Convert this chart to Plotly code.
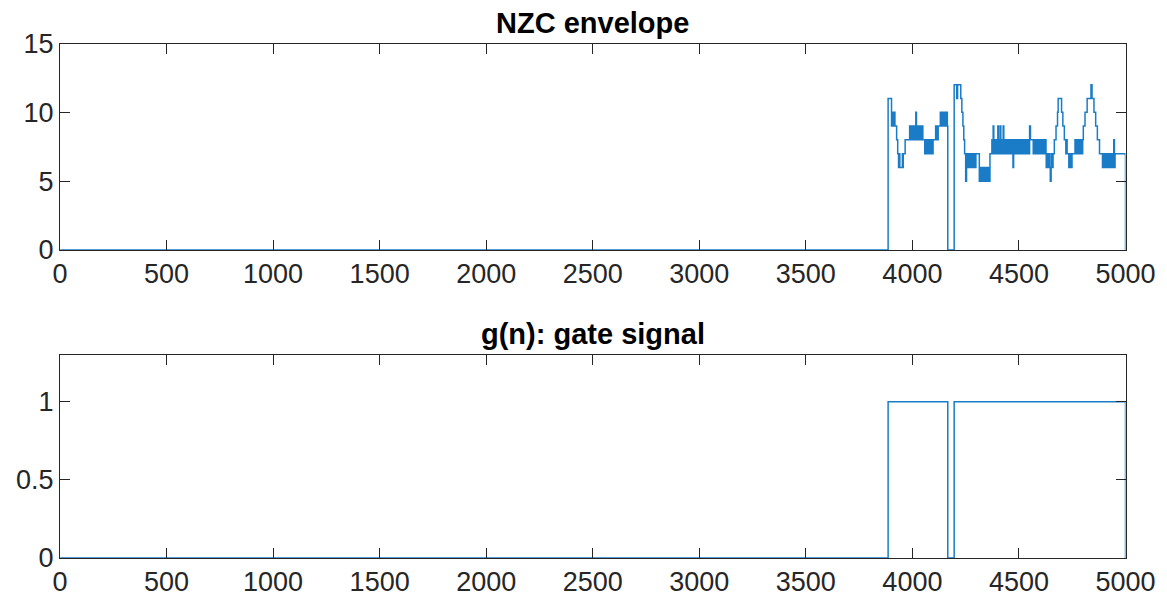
import plotly.graph_objects as go

# ---- NZC envelope: piecewise levels (segment start sample, low level, high level).
# Where low != high the envelope chatters between the two adjacent integer levels.
env_start = [1, 3886, 3902, 3918, 3926, 3931, 3935, 3944, 3950, 3957, 3966, 3984,
             4016, 4019, 4051, 4058, 4098, 4106, 4122, 4128, 4166,
             4196, 4208, 4212, 4227, 4232, 4237, 4241, 4245, 4250, 4254, 4298,
             4314, 4364, 4370, 4379, 4382, 4401, 4404, 4412, 4415, 4426, 4429,
             4472, 4475, 4550, 4554, 4567, 4628, 4647, 4651, 4660, 4666, 4674,
             4678, 4684, 4700, 4706, 4713, 4720, 4726, 4734, 4738, 4745, 4749,
             4760, 4802, 4810, 4820, 4838, 4843, 4852, 4860, 4868, 4878, 4892,
             4945, 4948, 4952, 5000]
env_low = [0, 11, 9, 9, 8, 7, 6, 6, 6, 7, 8, 8,
           10, 8, 8, 7, 8, 8, 9, 9, 0,
           12, 11, 12, 11, 10, 9, 8, 7, 5, 6, 7,
           5, 7, 7, 9, 7, 9, 7, 9, 7, 9, 7,
           6, 7, 9, 8, 7, 6, 5, 6, 7, 8, 9,
           9, 11, 10, 9, 8, 7, 7, 6, 7, 6, 7,
           7, 9, 10, 11, 12, 11, 10, 9, 8, 7, 6,
           8, 6, 7, 0]
env_high = [0, 11, 10, 9, 8, 7, 7, 6, 7, 7, 8, 9,
            10, 9, 8, 8, 8, 9, 9, 10, 0,
            12, 11, 12, 11, 10, 9, 8, 7, 5, 7, 7,
            6, 7, 8, 9, 8, 9, 8, 9, 8, 9, 8,
            6, 8, 9, 8, 8, 7, 5, 7, 7, 8, 9,
            10, 11, 10, 9, 8, 8, 7, 6, 7, 6, 7,
            8, 9, 10, 11, 12, 11, 10, 9, 8, 7, 7,
            8, 7, 7, 0]
N_END = 5000
CHATTER = 3  # samples per level while chattering

# ---- g(n): gate signal edges
gate_start = [1, 3886, 4166, 4196, 5000]
gate_level = [0, 1, 0, 1, 0]

x_ticks = list(range(0, 5001, 500))
env_ticks = [0, 5, 10, 15]
gate_ticks = [0, 0.5, 1]


def expand(starts, lows, highs, end, step):
    xs, ys = [], []
    stops = list(starts[1:]) + [end + 1]
    for s, e, lo, hi in zip(starts, stops, lows, highs):
        if lo == hi:
            xs.append(s)
            ys.append(lo)
        else:
            n, k = s, 0
            while n < e:
                xs.append(n)
                ys.append(lo if k % 2 == 0 else hi)
                n += step
                k += 1
    return xs, ys


ex, ey = expand(env_start, env_low, env_high, N_END, CHATTER)
gx, gy = list(gate_start), list(gate_level)

LINE = "#1a7cc6"
AX = "#262626"
FONT = "Liberation Sans, Arial, Helvetica, sans-serif"

fig = go.Figure()
fig.add_trace(go.Scatter(x=ex, y=ey, mode="lines", line=dict(color=LINE, width=1.5, shape="hv"),
                         xaxis="x", yaxis="y", showlegend=False, hoverinfo="skip"))
fig.add_trace(go.Scatter(x=gx, y=gy, mode="lines", line=dict(color=LINE, width=1.5, shape="hv"),
                         xaxis="x2", yaxis="y2", showlegend=False, hoverinfo="skip"))

W, H = 1167, 605
xdom = [60 / W, 1125.5 / W]
ydom_top = [1 - 250 / H, 1 - 43.5 / H]
ydom_bot = [1 - 558 / H, 1 - 355 / H]

common = dict(showline=True, linecolor=AX, linewidth=1, mirror="ticks", ticks="inside",
              ticklen=10, tickcolor=AX, tickwidth=1, showgrid=False, zeroline=False,
              automargin=False, tickfont=dict(family=FONT, size=27, color=AX))

fig.update_layout(
    width=W, height=H,
    margin=dict(l=0, r=0, t=0, b=0, pad=0, autoexpand=False),
    paper_bgcolor="white", plot_bgcolor="white",
    xaxis=dict(domain=xdom, anchor="y", range=[0, 5000], tickvals=x_ticks, **common),
    yaxis=dict(domain=ydom_top, anchor="x", range=[0, 15], tickvals=env_ticks, **common),
    xaxis2=dict(domain=xdom, anchor="y2", range=[0, 5000], tickvals=x_ticks, **common),
    yaxis2=dict(domain=ydom_bot, anchor="x2", range=[0, 1.3], tickvals=gate_ticks, **common),
    annotations=[
        dict(text="<b>NZC envelope</b>", x=sum(xdom) / 2, y=ydom_top[1], xref="paper", yref="paper",
             xanchor="center", yanchor="bottom", yshift=3, showarrow=False,
             font=dict(family=FONT, size=29, color="black")),
        dict(text="<b>g(n): gate signal</b>", x=sum(xdom) / 2, y=ydom_bot[1], xref="paper", yref="paper",
             xanchor="center", yanchor="bottom", yshift=3, showarrow=False,
             font=dict(family=FONT, size=29, color="black")),
    ],
)

fig.write_html("out.html")
